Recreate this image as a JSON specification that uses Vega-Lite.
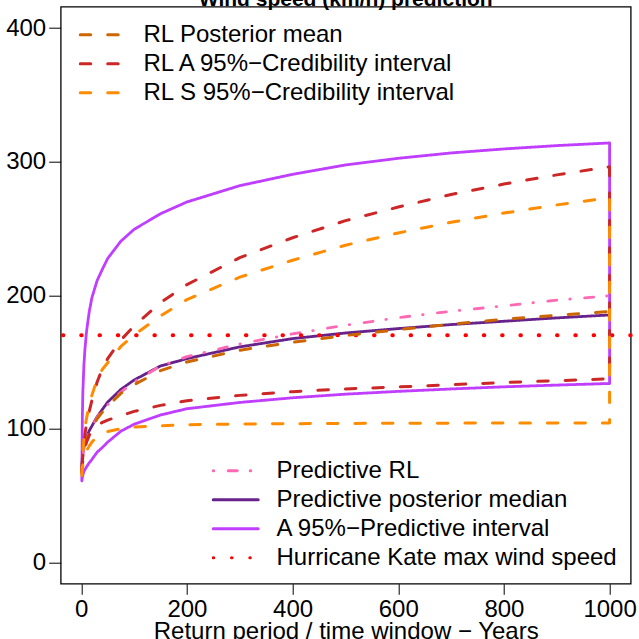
{
  "$schema": "https://vega.github.io/schema/vega-lite/v6.json",
  "width": 570,
  "height": 577,
  "autosize": {"type": "none"},
  "padding": {"left": 60.7, "top": 6.7, "right": 8.3, "bottom": 55.3},
  "title": {"text": "Wind speed (km/h) prediction", "font": "Liberation Sans", "fontSize": 21, "fontWeight": "bold", "color": "black", "anchor": "middle", "baseline": "alphabetic", "offset": -20},
  "config": {
    "view": {"stroke": "#000000", "strokeWidth": 1.3},
    "axis": {"labelFont": "Liberation Sans", "labelFontSize": 24, "labelColor": "black", "tickColor": "black", "tickWidth": 1, "grid": false, "domain": false, "titleFont": "Liberation Sans", "titleFontSize": 24, "titleFontWeight": "normal", "titleColor": "black"},
    "legend": {"padding": 0, "symbolType": "stroke", "symbolSize": 2025, "symbolStrokeWidth": 3, "labelFont": "Liberation Sans", "labelFontSize": 24, "labelColor": "black", "labelOffset": 16.8, "rowPadding": 0, "clipHeight": 28.3, "labelLimit": 0}
  },
  "layer": [
    {
      "layer": [
        {
          "data": {"values": [
            {"s":"pi","x":1,"y":61,"i":1},{"s":"pi","x":2,"y":63.5,"i":2},{"s":"pi","x":3,"y":65.5,"i":3},{"s":"pi","x":5,"y":68,"i":4},{"s":"pi","x":7,"y":69.5,"i":5},{"s":"pi","x":10,"y":71.5,"i":6},{"s":"pi","x":15,"y":74.5,"i":7},{"s":"pi","x":20,"y":77,"i":8},{"s":"pi","x":30,"y":82.5,"i":9},{"s":"pi","x":40,"y":86,"i":10},{"s":"pi","x":50,"y":90,"i":11},{"s":"pi","x":75,"y":98.2,"i":12},{"s":"pi","x":100,"y":103.4,"i":13},{"s":"pi","x":150,"y":110.3,"i":14},{"s":"pi","x":200,"y":115,"i":15},{"s":"pi","x":300,"y":119.7,"i":16},{"s":"pi","x":400,"y":123.2,"i":17},{"s":"pi","x":500,"y":125.9,"i":18},{"s":"pi","x":600,"y":128,"i":19},{"s":"pi","x":700,"y":129.8,"i":20},{"s":"pi","x":800,"y":131.4,"i":21},{"s":"pi","x":900,"y":132.7,"i":22},{"s":"pi","x":1000,"y":133.9,"i":23},
            {"s":"pi","x":1000,"y":314,"i":24},{"s":"pi","x":900,"y":312,"i":25},{"s":"pi","x":800,"y":309.5,"i":26},{"s":"pi","x":700,"y":306.5,"i":27},{"s":"pi","x":600,"y":302.5,"i":28},{"s":"pi","x":500,"y":297.5,"i":29},{"s":"pi","x":400,"y":290.5,"i":30},{"s":"pi","x":300,"y":282,"i":31},{"s":"pi","x":200,"y":269.8,"i":32},{"s":"pi","x":150,"y":261,"i":33},{"s":"pi","x":100,"y":249.3,"i":34},{"s":"pi","x":75,"y":240.5,"i":35},{"s":"pi","x":50,"y":227.5,"i":36},{"s":"pi","x":40,"y":219.5,"i":37},{"s":"pi","x":30,"y":211,"i":38},{"s":"pi","x":20,"y":198,"i":39},{"s":"pi","x":15,"y":187.5,"i":40},{"s":"pi","x":10,"y":173,"i":41},{"s":"pi","x":7,"y":160,"i":42},{"s":"pi","x":5,"y":148,"i":43},{"s":"pi","x":3,"y":128,"i":44},{"s":"pi","x":2,"y":108,"i":45},{"s":"pi","x":1,"y":61,"i":46},
            {"s":"md","x":1,"y":70,"i":1},{"s":"md","x":2,"y":78,"i":2},{"s":"md","x":3,"y":82,"i":3},{"s":"md","x":5,"y":87,"i":4},{"s":"md","x":7,"y":90.5,"i":5},{"s":"md","x":10,"y":94,"i":6},{"s":"md","x":15,"y":98.5,"i":7},{"s":"md","x":20,"y":102,"i":8},{"s":"md","x":30,"y":109,"i":9},{"s":"md","x":40,"y":114.5,"i":10},{"s":"md","x":50,"y":120,"i":11},{"s":"md","x":75,"y":129.5,"i":12},{"s":"md","x":100,"y":136.5,"i":13},{"s":"md","x":150,"y":147,"i":14},{"s":"md","x":200,"y":152.5,"i":15},{"s":"md","x":300,"y":161.3,"i":16},{"s":"md","x":400,"y":167.5,"i":17},{"s":"md","x":500,"y":171.7,"i":18},{"s":"md","x":600,"y":175,"i":19},{"s":"md","x":700,"y":178,"i":20},{"s":"md","x":800,"y":180.5,"i":21},{"s":"md","x":900,"y":183,"i":22},{"s":"md","x":1000,"y":185.2,"i":23},
            {"s":"pr","x":1,"y":68,"i":1},{"s":"pr","x":2,"y":76,"i":2},{"s":"pr","x":3,"y":80,"i":3},{"s":"pr","x":5,"y":85.5,"i":4},{"s":"pr","x":7,"y":89,"i":5},{"s":"pr","x":10,"y":93,"i":6},{"s":"pr","x":15,"y":98,"i":7},{"s":"pr","x":20,"y":101.5,"i":8},{"s":"pr","x":30,"y":108.5,"i":9},{"s":"pr","x":40,"y":114,"i":10},{"s":"pr","x":50,"y":118,"i":11},{"s":"pr","x":75,"y":127.5,"i":12},{"s":"pr","x":100,"y":135,"i":13},{"s":"pr","x":150,"y":147,"i":14},{"s":"pr","x":200,"y":154,"i":15},{"s":"pr","x":300,"y":163.5,"i":16},{"s":"pr","x":400,"y":171,"i":17},{"s":"pr","x":500,"y":177.5,"i":18},{"s":"pr","x":600,"y":183.2,"i":19},{"s":"pr","x":700,"y":188,"i":20},{"s":"pr","x":800,"y":192,"i":21},{"s":"pr","x":900,"y":196.3,"i":22},{"s":"pr","x":1000,"y":199.6,"i":23}
          ]},
          "mark": {"type": "line", "strokeWidth": 2.8, "strokeCap": "round", "strokeJoin": "round"},
          "encoding": {
            "x": {"field": "x", "type": "quantitative", "scale": {"domain": [-38.96, 1039.96], "nice": false, "zero": false}},
            "y": {"field": "y", "type": "quantitative", "scale": {"domain": [-16, 416], "nice": false, "zero": false}},
            "order": {"field": "i", "type": "quantitative"},
            "color": {"field": "s", "type": "nominal", "scale": {"domain": ["pr","md","pi","hk"], "range": ["#FF69B4","#68228B","#BF3EFF","#FF0000"]},
              "legend": {"title": null, "orient": "none", "legendX": 151, "legendY": 450, "labelExpr": "datum.value == 'pr' ? 'Predictive RL' : datum.value == 'md' ? 'Predictive posterior median' : datum.value == 'pi' ? 'A 95%−Predictive interval' : 'Hurricane Kate max wind speed'", "encode": {"symbols": {"update": {"strokeCap": {"value": "round"}}}}}},
            "strokeDash": {"field": "s", "type": "nominal", "scale": {"domain": ["pr","md","pi","hk"], "range": [[0.5,14.5,9,13],[1,0],[1,0],[0.5,17.8]]},
              "legend": {"title": null, "orient": "none", "legendX": 151, "legendY": 450, "labelExpr": "datum.value == 'pr' ? 'Predictive RL' : datum.value == 'md' ? 'Predictive posterior median' : datum.value == 'pi' ? 'A 95%−Predictive interval' : 'Hurricane Kate max wind speed'", "encode": {"symbols": {"update": {"strokeCap": {"value": "round"}}}}}}
          }
        },
        {
          "data": {"values": [{"s": "hk", "y": 170}]},
          "mark": {"type": "rule", "strokeWidth": 4, "strokeCap": "round"},
          "encoding": {
            "y": {"field": "y", "type": "quantitative", "scale": {"domain": [-16, 416], "nice": false, "zero": false}},
            "color": {"field": "s", "type": "nominal", "scale": {"domain": ["pr","md","pi","hk"], "range": ["#FF69B4","#68228B","#BF3EFF","#FF0000"]}},
            "strokeDash": {"field": "s", "type": "nominal", "scale": {"domain": ["pr","md","pi","hk"], "range": [[0.5,14.5,9,13],[1,0],[1,0],[0.5,17.8]]}}
          }
        }
      ]
    },
    {
      "data": {"values": [
        {"s":"pm","x":1,"y":67,"i":1},{"s":"pm","x":2,"y":75,"i":2},{"s":"pm","x":3,"y":79,"i":3},{"s":"pm","x":5,"y":84.5,"i":4},{"s":"pm","x":7,"y":88,"i":5},{"s":"pm","x":10,"y":92,"i":6},{"s":"pm","x":15,"y":97,"i":7},{"s":"pm","x":20,"y":100.5,"i":8},{"s":"pm","x":30,"y":107.5,"i":9},{"s":"pm","x":40,"y":112.5,"i":10},{"s":"pm","x":50,"y":117,"i":11},{"s":"pm","x":75,"y":126.5,"i":12},{"s":"pm","x":100,"y":133,"i":13},{"s":"pm","x":150,"y":143.5,"i":14},{"s":"pm","x":200,"y":150,"i":15},{"s":"pm","x":300,"y":158.8,"i":16},{"s":"pm","x":400,"y":164.8,"i":17},{"s":"pm","x":500,"y":169.8,"i":18},{"s":"pm","x":600,"y":174.2,"i":19},{"s":"pm","x":700,"y":178.2,"i":20},{"s":"pm","x":800,"y":182,"i":21},{"s":"pm","x":900,"y":185,"i":22},{"s":"pm","x":1000,"y":187.7,"i":23},
        {"s":"ra","x":1,"y":68,"i":1},{"s":"ra","x":2,"y":73,"i":2},{"s":"ra","x":3,"y":77,"i":3},{"s":"ra","x":5,"y":82,"i":4},{"s":"ra","x":7,"y":86,"i":5},{"s":"ra","x":10,"y":90,"i":6},{"s":"ra","x":15,"y":95,"i":7},{"s":"ra","x":20,"y":99,"i":8},{"s":"ra","x":30,"y":102.5,"i":9},{"s":"ra","x":40,"y":104.8,"i":10},{"s":"ra","x":50,"y":106.5,"i":11},{"s":"ra","x":75,"y":109.8,"i":12},{"s":"ra","x":100,"y":113,"i":13},{"s":"ra","x":150,"y":117.5,"i":14},{"s":"ra","x":200,"y":121,"i":15},{"s":"ra","x":300,"y":125,"i":16},{"s":"ra","x":400,"y":127.8,"i":17},{"s":"ra","x":500,"y":129.8,"i":18},{"s":"ra","x":600,"y":131.3,"i":19},{"s":"ra","x":700,"y":133,"i":20},{"s":"ra","x":800,"y":134.6,"i":21},{"s":"ra","x":900,"y":136,"i":22},{"s":"ra","x":1000,"y":137.4,"i":23},
        {"s":"ra","x":1000,"y":296.2,"i":24},{"s":"ra","x":900,"y":290.1,"i":25},{"s":"ra","x":800,"y":283.2,"i":26},{"s":"ra","x":700,"y":275.4,"i":27},{"s":"ra","x":600,"y":266,"i":28},{"s":"ra","x":500,"y":255.8,"i":29},{"s":"ra","x":400,"y":243,"i":30},{"s":"ra","x":300,"y":228.1,"i":31},{"s":"ra","x":200,"y":207.9,"i":32},{"s":"ra","x":150,"y":194.4,"i":33},{"s":"ra","x":100,"y":177,"i":34},{"s":"ra","x":75,"y":166.5,"i":35},{"s":"ra","x":50,"y":152.5,"i":36},{"s":"ra","x":40,"y":145,"i":37},{"s":"ra","x":30,"y":135,"i":38},{"s":"ra","x":20,"y":121,"i":39},{"s":"ra","x":15,"y":113,"i":40},{"s":"ra","x":10,"y":104,"i":41},{"s":"ra","x":7,"y":96,"i":42},{"s":"ra","x":5,"y":89,"i":43},{"s":"ra","x":3,"y":80,"i":44},{"s":"ra","x":2,"y":75,"i":45},{"s":"ra","x":1,"y":68,"i":46},
        {"s":"rs","x":1,"y":65,"i":1},{"s":"rs","x":2,"y":70,"i":2},{"s":"rs","x":3,"y":73,"i":3},{"s":"rs","x":5,"y":77.5,"i":4},{"s":"rs","x":7,"y":80.5,"i":5},{"s":"rs","x":10,"y":83.5,"i":6},{"s":"rs","x":15,"y":87,"i":7},{"s":"rs","x":20,"y":90,"i":8},{"s":"rs","x":30,"y":94,"i":9},{"s":"rs","x":40,"y":96.5,"i":10},{"s":"rs","x":50,"y":98,"i":11},{"s":"rs","x":75,"y":100,"i":12},{"s":"rs","x":100,"y":101.2,"i":13},{"s":"rs","x":150,"y":102.3,"i":14},{"s":"rs","x":200,"y":103,"i":15},{"s":"rs","x":300,"y":103.5,"i":16},{"s":"rs","x":400,"y":103.8,"i":17},{"s":"rs","x":500,"y":104,"i":18},{"s":"rs","x":600,"y":104.1,"i":19},{"s":"rs","x":700,"y":104.2,"i":20},{"s":"rs","x":800,"y":104.3,"i":21},{"s":"rs","x":900,"y":104.3,"i":22},{"s":"rs","x":1000,"y":104.4,"i":23},
        {"s":"rs","x":1000,"y":273,"i":24},{"s":"rs","x":900,"y":267.6,"i":25},{"s":"rs","x":800,"y":261.5,"i":26},{"s":"rs","x":700,"y":254.6,"i":27},{"s":"rs","x":600,"y":246.6,"i":28},{"s":"rs","x":500,"y":237.4,"i":29},{"s":"rs","x":400,"y":226.2,"i":30},{"s":"rs","x":300,"y":213.5,"i":31},{"s":"rs","x":200,"y":196.7,"i":32},{"s":"rs","x":150,"y":184.5,"i":33},{"s":"rs","x":100,"y":170.3,"i":34},{"s":"rs","x":75,"y":161.6,"i":35},{"s":"rs","x":50,"y":149.4,"i":36},{"s":"rs","x":40,"y":144.6,"i":37},{"s":"rs","x":30,"y":137,"i":38},{"s":"rs","x":20,"y":125,"i":39},{"s":"rs","x":15,"y":117.5,"i":40},{"s":"rs","x":10,"y":108,"i":41},{"s":"rs","x":7,"y":101,"i":42},{"s":"rs","x":5,"y":93,"i":43},{"s":"rs","x":3,"y":82,"i":44},{"s":"rs","x":2,"y":75,"i":45},{"s":"rs","x":1,"y":66,"i":46}
      ]},
      "mark": {"type": "line", "strokeWidth": 3, "strokeCap": "round", "strokeJoin": "round"},
      "encoding": {
        "x": {"field": "x", "type": "quantitative", "scale": {"domain": [-38.96, 1039.96], "nice": false, "zero": false},
          "axis": {"values": [0,200,400,600,800,1000], "format": "d", "tickSize": 10.6, "labelPadding": 3, "title": "Return period / time window − Years", "titlePadding": -2, "labelFlush": false, "labelOverlap": false}},
        "y": {"field": "y", "type": "quantitative", "scale": {"domain": [-16, 416], "nice": false, "zero": false},
          "axis": {"values": [0,100,200,300,400], "format": "d", "tickSize": 12, "labelPadding": 3, "title": null, "labelFlush": false, "labelOverlap": false}},
        "order": {"field": "i", "type": "quantitative"},
        "color": {"field": "s", "type": "nominal", "scale": {"domain": ["pm","ra","rs"], "range": ["#CD6600","#CD2626","#FF8C00"]},
          "legend": {"title": null, "orient": "none", "legendX": 18, "legendY": 14, "labelExpr": "datum.value == 'pm' ? 'RL Posterior mean' : datum.value == 'ra' ? 'RL A 95%−Credibility interval' : 'RL S 95%−Credibility interval'", "encode": {"symbols": {"update": {"strokeCap": {"value": "round"}}}}}},
        "strokeDash": {"field": "s", "type": "nominal", "scale": {"domain": ["pm","ra","rs"], "range": [[10.5,17],[10.5,17],[10.5,17]]},
          "legend": {"title": null, "orient": "none", "legendX": 18, "legendY": 14, "labelExpr": "datum.value == 'pm' ? 'RL Posterior mean' : datum.value == 'ra' ? 'RL A 95%−Credibility interval' : 'RL S 95%−Credibility interval'", "encode": {"symbols": {"update": {"strokeCap": {"value": "round"}}}}}}
      }
    }
  ],
  "resolve": {"scale": {"color": "independent", "strokeDash": "independent"}}
}
